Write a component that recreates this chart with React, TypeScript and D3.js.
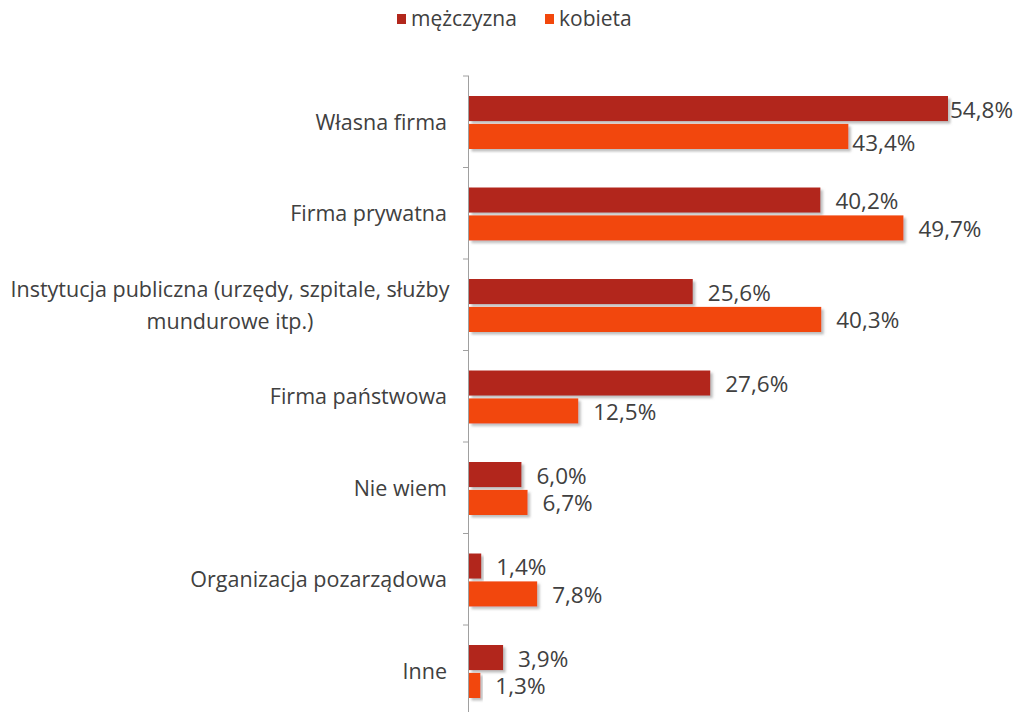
import React from "react";
import * as d3 from "d3";

const categories = [
  ["Własna firma"],
  ["Firma prywatna"],
  ["Instytucja publiczna (urzędy, szpitale, służby", "mundurowe itp.)"],
  ["Firma państwowa"],
  ["Nie wiem"],
  ["Organizacja pozarządowa"],
  ["Inne"],
];
const seriesNames = ["mężczyzna", "kobieta"];
const male = [54.8, 40.2, 25.6, 27.6, 6.0, 1.4, 3.9];
const female = [43.4, 49.7, 40.3, 12.5, 6.7, 7.8, 1.3];
const colors = ["#B2271C", "#F2470C"];

const W = 1020;
const H = 712;
const x0 = 469;
const top = 76;
const step = 91.5;
const font = "'Open Sans', sans-serif";
const txt = "#404040";

export default function App() {
  const x = d3.scaleLinear().domain([0, 54.8]).range([x0, 948]);
  const y = d3
    .scaleBand<number>()
    .domain(d3.range(categories.length))
    .range([top, top + step * categories.length])
    .paddingInner(0)
    .paddingOuter(0);
  const inner = d3.scaleBand<number>().domain([0, 1]).range([20, 73]).paddingInner(0.1);
  const series = [male, female];
  const fmt = (v: number) => v.toFixed(1).replace(".", ",") + "%";

  return (
    <svg width={W} height={H} style={{ position: "absolute", left: 0, top: 0, background: "#fff" }}>
      <defs>
        <filter id="sh" x="-5%" y="-20%" width="120%" height="160%">
          <feDropShadow dx="2.5" dy="2.5" stdDeviation="1.2" floodColor="#888" floodOpacity="0.55" />
        </filter>
      </defs>
      {seriesNames.map((n, i) => {
        const lx = i === 0 ? 397 : 545;
        return (
          <g key={n}>
            <rect x={lx} y={14} width={9} height={10} fill={colors[i]} />
            <text x={lx + 14} y={26} fontFamily={font} fontSize={21} fill={txt}>
              {n}
            </text>
          </g>
        );
      })}
      {categories.map((c, ci) => (
        <g key={ci}>
          {series.map((s, si) => {
            const by = (y(ci) as number) + (inner(si) as number);
            const bh = inner.bandwidth();
            const gap = ci === 0 ? (si === 0 ? 2 : 4) : 15;
            const dy = ci === 0 && si === 1 ? 9 : 3;
            return (
              <g key={si}>
                <rect
                  x={x0}
                  y={by}
                  width={x(s[ci]) - x0}
                  height={bh}
                  fill={colors[si]}
                  filter="url(#sh)"
                />
                <text
                  x={x(s[ci]) + gap}
                  y={by + bh / 2 + dy}
                  dominantBaseline="middle"
                  fontFamily={font}
                  fontSize={22.5}
                  fill={txt}
                >
                  {fmt(s[ci])}
                </text>
              </g>
            );
          })}
          {c.map((line, li) => {
            const cy = (y(ci) as number) + step / 2;
            const off = (li - (c.length - 1) / 2) * 32;
            const multi = c.length > 1;
            return (
              <text
                key={li}
                x={multi ? 230 : 447}
                y={cy + off + 2}
                dominantBaseline="middle"
                textAnchor={multi ? "middle" : "end"}
                fontFamily={font}
                fontSize={21.5}
                fill={txt}
              >
                {line}
              </text>
            );
          })}
        </g>
      ))}
      <line x1={x0 - 0.5} x2={x0 - 0.5} y1={top} y2={H} stroke="#A0A0A0" strokeWidth={1} />
      {d3.range(categories.length + 1).map((i) => (
        <line
          key={i}
          x1={x0 - 6}
          x2={x0}
          y1={top + i * step}
          y2={top + i * step}
          stroke="#A0A0A0"
          strokeWidth={1}
        />
      ))}
    </svg>
  );
}
